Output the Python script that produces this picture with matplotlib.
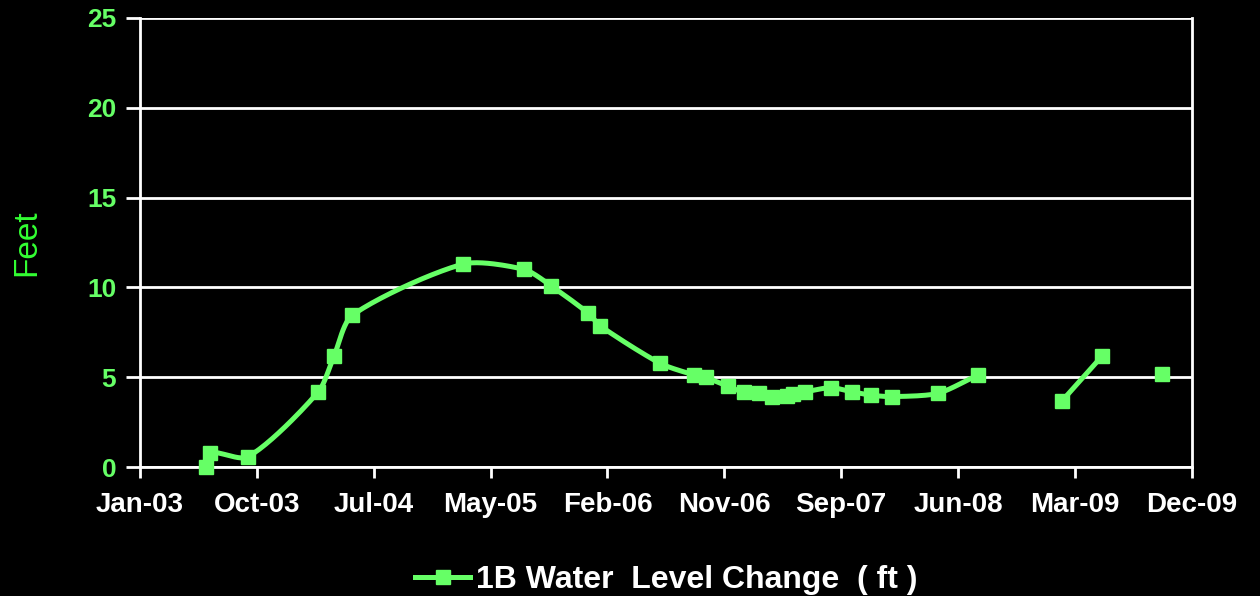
import numpy as np
import matplotlib
matplotlib.use('Agg')
import matplotlib.pyplot as plt
import matplotlib.dates as mdates
from matplotlib.lines import Line2D

# data (None marks a break in the line)
dates = ['2003-06-08', '2003-06-18', '2003-09-18', '2004-03-05', '2004-04-12',
         '2004-05-26', '2005-02-16', '2005-07-13', '2005-09-15', '2005-12-14',
         '2006-01-12', '2006-06-05', '2006-08-26', '2006-09-22', '2006-11-14',
         '2006-12-23', '2007-01-29', '2007-03-01', '2007-04-05', '2007-04-21',
         '2007-05-20', '2007-07-21', '2007-09-08', '2007-10-25', '2007-12-13',
         '2008-04-02', '2008-07-07', None, '2009-01-26', '2009-05-02', None,
         '2009-09-24']
level = [0.0, 0.8, 0.57, 4.19, 6.2,
         8.46, 11.3, 11.0, 10.1, 8.56,
         7.85, 5.77, 5.12, 4.99, 4.5,
         4.16, 4.1, 3.92, 3.95, 4.05,
         4.19, 4.42, 4.19, 4.0, 3.92,
         4.1, 5.12, None, 3.69, 6.18, None,
         5.18]
tick_labels = ['Jan-03', 'Oct-03', 'Jul-04', 'May-05', 'Feb-06', 'Nov-06',
               'Sep-07', 'Jun-08', 'Mar-09', 'Dec-09']

green = '#66ff66'

x0 = mdates.date2num(np.datetime64('2003-01-01'))
x1 = x0 + 281 * 9
# rough pixel scale, so the smoothing behaves like it does on screen
sx_px = 1052 / (x1 - x0)
sy_px = 449 / 25


def smooth(x, y, n=25, k=0.25):
    # bezier smoothing, control arms scaled by the neighbouring segment length
    if len(x) < 2:
        return np.array(x), np.array(y)
    p = np.column_stack([np.asarray(x) * sx_px, np.asarray(y) * sy_px])
    out = []
    for i in range(len(p) - 1):
        p1, p2 = p[i], p[i + 1]
        p0 = p[i - 1] if i > 0 else p1
        p3 = p[i + 2] if i + 2 < len(p) else p2
        seg = np.linalg.norm(p2 - p1)
        d1 = p2 - p0
        d2 = p3 - p1
        c1 = p1 + d1 / (np.linalg.norm(d1) or 1) * seg * k
        c2 = p2 - d2 / (np.linalg.norm(d2) or 1) * seg * k
        t = np.linspace(0, 1, n)[:, None]
        b = ((1 - t) ** 3) * p1 + 3 * ((1 - t) ** 2) * t * c1 + 3 * (1 - t) * t ** 2 * c2 + t ** 3 * p2
        out.append(b)
    out = np.vstack(out)
    return out[:, 0] / sx_px, out[:, 1] / sy_px


# split into segments at the breaks
segments = []
cur_x, cur_y = [], []
for d, v in zip(dates, level):
    if d is None:
        segments.append((cur_x, cur_y))
        cur_x, cur_y = [], []
        continue
    cur_x.append(mdates.date2num(np.datetime64(d)))
    cur_y.append(v)
segments.append((cur_x, cur_y))

plt.rcParams['font.family'] = 'Liberation Sans'

fig = plt.figure(figsize=(12.6, 5.96), dpi=100, facecolor='black')
ax = fig.add_axes([0.111, 0.2164, 0.835, 0.7534], facecolor='black')

for sx, sy in segments:
    xs, ys = smooth(sx, sy)
    ax.plot(xs, ys, color=green, lw=3.6, solid_capstyle='butt', zorder=3)
    ax.plot(sx, sy, ls='none', marker='s', ms=10, color=green, zorder=4, clip_on=False)

ax.set_xlim(x0, x1)
ax.set_ylim(0, 25)
ax.set_xticks(np.linspace(x0, x1, len(tick_labels)))
ax.set_xticklabels(tick_labels)
ax.set_yticks(range(0, 26, 5))

ax.grid(axis='y', color='white', lw=2)
ax.set_axisbelow(True)
for s in ['left', 'right', 'bottom']:
    ax.spines[s].set_color('white')
    ax.spines[s].set_linewidth(2)
ax.spines['top'].set_visible(False)

ax.tick_params(axis='x', colors='white', labelsize=20, width=2, length=8, pad=10)
ax.tick_params(axis='y', colors='white', labelcolor=green, labelsize=19, width=2, length=10, pad=7)
for lbl in ax.get_xticklabels() + ax.get_yticklabels():
    lbl.set_fontweight('bold')

ax.set_ylabel('Feet', color='#33ff33', fontsize=24, labelpad=32)

handle = Line2D([], [], color=green, lw=3.6, marker='s', ms=10)
leg = fig.legend([handle], ['1B Water  Level Change  ( ft )'], loc='center',
                 bbox_to_anchor=(0.529, 0.027), frameon=False, handlelength=1.7,
                 handletextpad=0.2, prop={'weight': 'bold', 'size': 23})
for t in leg.get_texts():
    t.set_color('white')

fig.savefig('out.png', facecolor='black')
